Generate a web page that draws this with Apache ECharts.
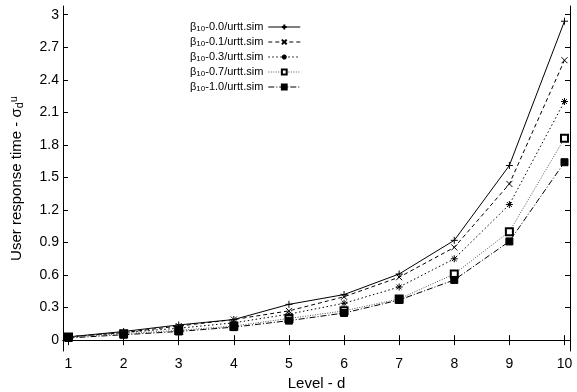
<!DOCTYPE html>
<html>
<head>
<meta charset="utf-8">
<script src="https://cdn.jsdelivr.net/npm/echarts@6/dist/echarts.min.js"></script>
<style>
  html, body { margin: 0; padding: 0; background: #fff; }
  #chart { width: 577px; height: 392px; }
</style>
</head>
<body>
<div id="chart"></div>
<script>
  // levels on the x axis
  const levels = [1, 2, 3, 4, 5, 6, 7, 8, 9, 10];
  const xTicks = [1, 2, 3, 4, 5, 6, 7, 8, 9, 10];
  const yTicks = [0, 0.3, 0.6, 0.9, 1.2, 1.5, 1.8, 2.1, 2.4, 2.7, 3];

  const names = [
    'β10-0.0/urtt.sim',
    'β10-0.1/urtt.sim',
    'β10-0.3/urtt.sim',
    'β10-0.7/urtt.sim',
    'β10-1.0/urtt.sim'
  ];

  const beta00 = [0.03, 0.08, 0.14, 0.19, 0.33, 0.42, 0.61, 0.92, 1.61, 2.94];
  const beta01 = [0.03, 0.07, 0.13, 0.19, 0.27, 0.40, 0.58, 0.855, 1.44, 2.58];
  const beta03 = [0.03, 0.07, 0.11, 0.16, 0.24, 0.34, 0.49, 0.75, 1.25, 2.20];
  const beta07 = [0.03, 0.06, 0.09, 0.13, 0.20, 0.27, 0.38, 0.61, 1.00, 1.86];
  const beta10 = [0.02, 0.05, 0.08, 0.12, 0.18, 0.25, 0.37, 0.555, 0.91, 1.64];

  const chart = echarts.init(document.getElementById('chart'));

  const font = 'Liberation Sans, Arial, sans-serif';

  function pairs(vals) {
    return levels.map((x, i) => [x, vals[i]]);
  }

  function line(name, vals, symbol, dash, color, size) {
    return {
      type: 'line',
      name: name,
      data: pairs(vals),
      symbol: symbol,
      symbolSize: size,
      showSymbol: true,
      animation: false,
      lineStyle: { color: color, width: 1, type: dash },
      itemStyle: { color: '#000', borderColor: '#000', borderWidth: 1 }
    };
  }

  const plus = 'path://M0,5L10,5M5,0L5,10';
  const cross = 'path://M1,1L9,9M9,1L1,9';
  const star = 'path://M0,5L10,5M5,0L5,10M1.5,1.5L8.5,8.5M8.5,1.5L1.5,8.5';

  const frameAxisX = {
    type: 'value', min: 0.9, max: 10.1,
    axisLine: { show: true, lineStyle: { color: '#000', width: 1 } },
    axisTick: { show: true, inside: true, length: 5, customValues: xTicks, lineStyle: { color: '#000' } },
    splitLine: { show: false }
  };
  const frameAxisY = {
    type: 'value', min: -0.1, max: 3.08,
    axisLine: { show: true, lineStyle: { color: '#000', width: 1 } },
    axisTick: { show: true, inside: true, length: 5, customValues: yTicks, lineStyle: { color: '#000' } },
    splitLine: { show: false }
  };

  chart.setOption({
    backgroundColor: '#fff',
    animation: false,
    grid: { left: 63, right: 7, top: 6, bottom: 41, outerBoundsMode: 'none', containLabel: false },
    legend: {
      orient: 'vertical',
      left: 185,
      top: 15,
      align: 'right',
      itemWidth: 32,
      itemHeight: 6,
      itemGap: 2,
      lineStyle: { width: 1 },
      data: names,
      formatter: n => n.replace('β10', 'β{s|10}'),
      textStyle: {
        fontFamily: font, fontSize: 11, color: '#000', lineHeight: 12,
        rich: {
          s: { fontFamily: font, fontSize: 8, color: '#000', lineHeight: 8, verticalAlign: 'bottom', padding: [5, 0, 0, 0] }
        }
      }
    },
    xAxis: [
      Object.assign({}, frameAxisX, {
        position: 'bottom',
        name: 'Level - d',
        nameLocation: 'middle',
        nameGap: 25,
        nameTextStyle: { fontFamily: font, fontSize: 15, color: '#000' },
        axisLabel: { show: true, customValues: xTicks, margin: 6, fontFamily: font, fontSize: 14, color: '#000' }
      }),
      Object.assign({}, frameAxisX, { position: 'top', axisLabel: { show: false } })
    ],
    yAxis: [
      Object.assign({}, frameAxisY, {
        position: 'left',
        name: 'User response time - σ{d|d}{u|u}',
        nameLocation: 'middle',
        nameGap: 38,
        nameTextStyle: {
          fontFamily: font, fontSize: 15, color: '#000',
          rich: {
            d: { fontFamily: font, fontSize: 11, color: '#000', verticalAlign: 'bottom', padding: [6, 0, 0, 0] },
            u: { fontFamily: font, fontSize: 11, color: '#000', verticalAlign: 'top', padding: [0, 0, 6, 0] }
          }
        },
        axisLabel: {
          show: true, customValues: yTicks, margin: 4, fontFamily: font, fontSize: 14, color: '#000',
          formatter: v => String(Math.round(v * 10) / 10)
        }
      }),
      Object.assign({}, frameAxisY, { position: 'right', axisLabel: { show: false } })
    ],
    series: [
      line(names[0], beta00, plus, 'solid', '#000', 7),
      line(names[1], beta01, cross, [4, 3], '#000', 6),
      line(names[2], beta03, star, [1.5, 2.5], '#000', 7),
      line(names[3], beta07, 'emptyRect', [1, 1.5], '#555', 7),
      line(names[4], beta10, 'rect', [6, 2, 1, 2], '#000', 7)
    ]
  });
</script>
</body>
</html>
